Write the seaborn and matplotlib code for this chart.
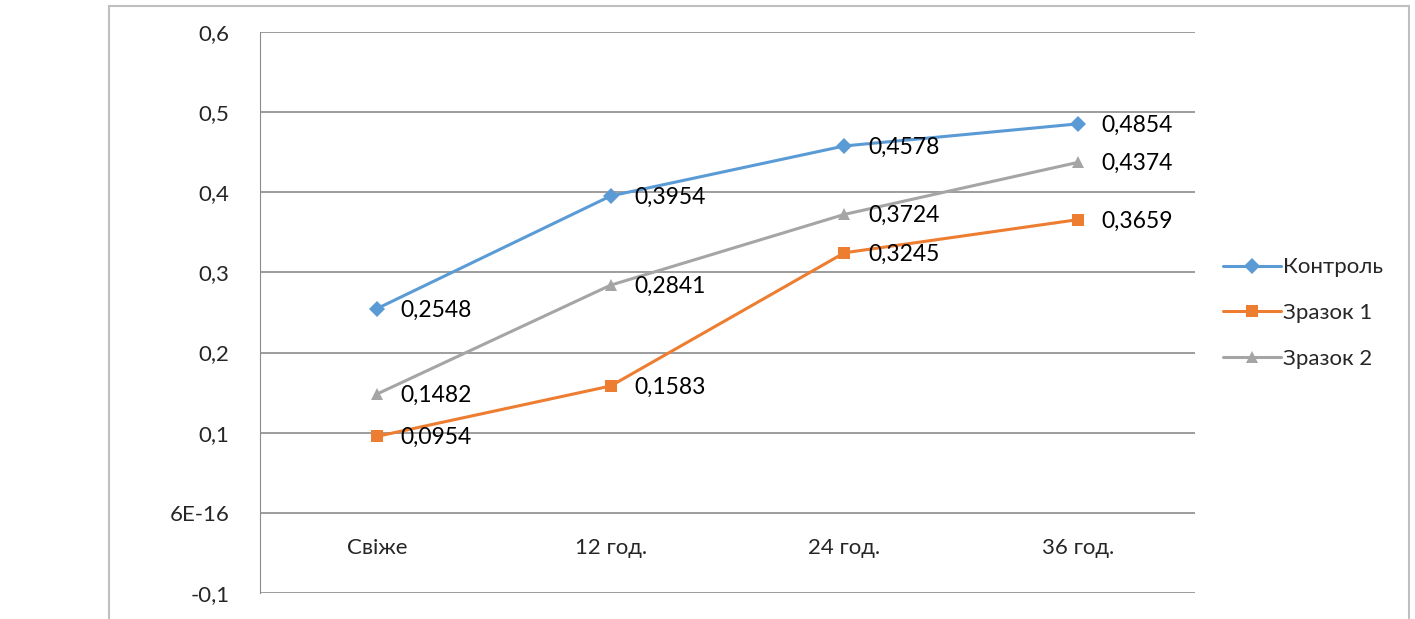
import matplotlib
matplotlib.use("Agg")
import matplotlib.pyplot as plt
import seaborn as sns
import pandas as pd
from matplotlib.patches import Rectangle

# data
categories = ["Свіже", "12 год.", "24 год.", "36 год."]
kontrol = [0.2548, 0.3954, 0.4578, 0.4854]
zrazok1 = [0.0954, 0.1583, 0.3245, 0.3659]
zrazok2 = [0.1482, 0.2841, 0.3724, 0.4374]
series_names = ["Контроль", "Зразок 1", "Зразок 2"]
y_ticks = [-0.1, 0.0, 0.1, 0.2, 0.3, 0.4, 0.5, 0.6]
y_tick_labels = ["-0,1", "6E-16", "0,1", "0,2", "0,3", "0,4", "0,5", "0,6"]

colors = {"Контроль": "#5B9BD5", "Зразок 1": "#ED7D31", "Зразок 2": "#A5A5A5"}
markers = {"Контроль": "D", "Зразок 1": "s", "Зразок 2": "^"}

rows = []
for name, vals in zip(series_names, [kontrol, zrazok1, zrazok2]):
    for i, v in enumerate(vals):
        rows.append({"pos": i, "value": v, "series": name})
df = pd.DataFrame(rows)

sns.set_style("white")
plt.rcParams["font.family"] = ["Lato", "Open Sans", "DejaVu Sans"]

W, H = 1415, 619
fig = plt.figure(figsize=(W / 100, H / 100), dpi=100)
ax = fig.add_axes([260 / W, 26 / H, (1195 - 260) / W, (593 - 32) / H])

# chart frame
fig.patches.append(Rectangle((109 / W, -0.05), (1409 - 109) / W, 1.05 - 6 / H,
                             transform=fig.transFigure, fill=False,
                             edgecolor="#BFBFBF", linewidth=1.5))

sns.lineplot(data=df, x="pos", y="value", hue="series", style="series",
             palette=colors, markers=markers, dashes=False, linewidth=2.2,
             markersize=8.5, markeredgewidth=0, ax=ax, legend=False)

# data labels
for name, vals in zip(series_names, [kontrol, zrazok1, zrazok2]):
    for i, v in enumerate(vals):
        ax.annotate(f"{v:.4f}".replace(".", ","), (i, v), xytext=(17, -1),
                    textcoords="offset points", va="center", ha="left",
                    fontsize=16.5, color="black")

ax.set_xlim(-0.5, 3.5)
ax.set_ylim(-0.1, 0.6)
ax.set_yticks(y_ticks)
ax.set_yticklabels(y_tick_labels, fontsize=16)
ax.tick_params(axis="y", length=0, pad=22)
ax.set_xticks([])
ax.grid(axis="y", color="#8C8C8C", linewidth=1.2)
for s in ["top", "right", "bottom"]:
    ax.spines[s].set_visible(False)
ax.spines["left"].set_color("#8C8C8C")
ax.set_xlabel("")
ax.set_ylabel("")

# category labels below the zero line
for i, c in enumerate(categories):
    ax.text(i, -0.044, c, ha="center", va="center", fontsize=16)

# legend
handles = [plt.Line2D([], [], color=colors[n], marker=markers[n], markersize=8,
                      markeredgewidth=0, linewidth=2.2) for n in series_names]
fig.legend(handles, series_names, loc="center left",
           bbox_to_anchor=(1203 / W, 1 - 313 / H), frameon=False,
           fontsize=16, handlelength=2.6, handletextpad=0.1, labelspacing=1.15)

fig.savefig("out.png", dpi=100, facecolor="white")
